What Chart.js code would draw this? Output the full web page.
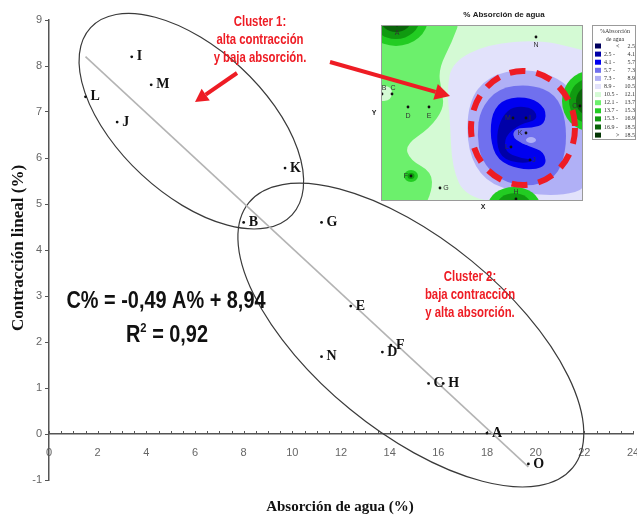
<!DOCTYPE html>
<html>
<head>
<meta charset="utf-8">
<script src="https://cdn.jsdelivr.net/npm/chart.js@4.4.0/dist/chart.umd.min.js"></script>
<style>
  html, body { margin: 0; padding: 0; background: #fff; }
  canvas { display: block; }
</style>
</head>
<body>
<canvas id="scatterChart" width="637" height="516"></canvas>
<script>
// Muestras (etiqueta, absorcion de agua %, contraccion lineal %)
const sampleNames = ['A', 'B', 'C', 'D', 'E', 'F', 'G', 'H', 'I', 'J', 'K', 'L', 'M', 'N', 'O'];
const absorption = [18.0, 8.0, 15.6, 13.7, 12.4, 14.05, 11.2, 16.2, 3.4, 2.8, 9.7, 1.5, 4.2, 11.2, 19.7];
const contraction = [0.02, 4.6, 1.1, 1.78, 2.78, 1.93, 4.6, 1.1, 8.2, 6.78, 5.78, 7.33, 7.59, 1.68, -0.65];

// Recta de ajuste C% = -0,49 A% + 8,94
const fitSlope = -0.49;
const fitIntercept = 8.94;
const fitRange = [1.5, 19.7];

// Ticks
const xTickLabels = [0, 2, 4, 6, 8, 10, 12, 14, 16, 18, 20, 22, 24];
const yTickLabels = [-1, 0, 1, 2, 3, 4, 5, 6, 7, 8, 9];

// Leyenda del mapa de contorno (inset)
const insetRanges = ['< 2.5', '2.5 - 4.1', '4.1 - 5.7', '5.7 - 7.3', '7.3 - 8.9', '8.9 - 10.5',
  '10.5 - 12.1', '12.1 - 13.7', '13.7 - 15.3', '15.3 - 16.9', '16.9 - 18.5', '> 18.5'];
const insetColors = ['#00005e', '#0000a8', '#0000f0', '#7070ee', '#b0b0f6', '#e2e2fb',
  '#d4fad4', '#6cf06c', '#22cc22', '#109a10', '#0a640a', '#033503'];

// Elipses de los clusters (centro en unidades de datos, semiejes en unidades de x)
const clusterEllipses = [
  { cx: 5.85, cy: 6.8, a: 5.65, b: 3.0, angle: 42.9 },
  { cx: 14.87, cy: 2.15, a: 8.6, b: 3.94, angle: 39.3 }
];

const RED = '#ee1c24';

function fitText(ctx, text, cx, cy, width, font, color) {
  ctx.save();
  ctx.font = font;
  const w = ctx.measureText(text).width;
  ctx.translate(cx, cy);
  ctx.scale(width / w, 1);
  ctx.textAlign = 'center';
  ctx.textBaseline = 'middle';
  ctx.fillStyle = color;
  ctx.fillText(text, 0, 0);
  ctx.restore();
  return width / w;
}

function blob(ctx, pts, color) {
  const n = pts.length;
  const mid = (p, q) => [(p[0] + q[0]) / 2, (p[1] + q[1]) / 2];
  ctx.beginPath();
  const m0 = mid(pts[n - 1], pts[0]);
  ctx.moveTo(m0[0], m0[1]);
  for (let i = 0; i < n; i++) {
    const m = mid(pts[i], pts[(i + 1) % n]);
    ctx.quadraticCurveTo(pts[i][0], pts[i][1], m[0], m[1]);
  }
  ctx.closePath();
  ctx.fillStyle = color;
  ctx.fill();
}

function rings(ctx, cx, cy, rx, ry, colors) {
  colors.forEach((c, i) => {
    const k = 1 - i / colors.length;
    ctx.beginPath();
    ctx.ellipse(cx, cy, rx * k, ry * k, 0, 0, Math.PI * 2);
    ctx.fillStyle = c;
    ctx.fill();
  });
}

function arrow(ctx, x1, y1, x2, y2, width, head) {
  const ang = Math.atan2(y2 - y1, x2 - x1);
  const bx = x2 - head * Math.cos(ang), by = y2 - head * Math.sin(ang);
  ctx.save();
  ctx.strokeStyle = RED;
  ctx.fillStyle = RED;
  ctx.lineWidth = width;
  ctx.beginPath();
  ctx.moveTo(x1, y1);
  ctx.lineTo(bx, by);
  ctx.stroke();
  ctx.beginPath();
  ctx.moveTo(x2, y2);
  ctx.lineTo(bx + head * 0.55 * Math.sin(ang), by - head * 0.55 * Math.cos(ang));
  ctx.lineTo(bx - head * 0.55 * Math.sin(ang), by + head * 0.55 * Math.cos(ang));
  ctx.closePath();
  ctx.fill();
  ctx.restore();
}

function drawInset(ctx) {
  const L = 381, T = 25, R = 583, B = 201;
  ctx.save();
  ctx.font = 'bold 8px "Liberation Sans", Arial, sans-serif';
  ctx.fillStyle = '#222';
  ctx.textAlign = 'center';
  ctx.textBaseline = 'middle';
  ctx.fillText('% Absorción de agua', 504, 15);

  ctx.save();
  ctx.beginPath();
  ctx.rect(L, T, R - L, B - T);
  ctx.clip();
  ctx.fillStyle = insetColors[6];
  ctx.fillRect(L, T, R - L, B - T);

  // zonas verdes (alta absorcion)
  blob(ctx, [[370, 10], [462, 15], [452, 42], [438, 70], [442, 92], [444, 108], [430, 128], [405, 145],
    [410, 160], [432, 172], [432, 192], [420, 215], [370, 215]], insetColors[7]);
  blob(ctx, [[376, 86], [392, 86], [392, 100], [376, 102]], insetColors[6]);
  rings(ctx, 396, 18, 32, 28, [insetColors[8], insetColors[9], insetColors[10], insetColors[11]]);
  rings(ctx, 411, 176, 7, 6, [insetColors[8], insetColors[9]]);

  // zonas azules (baja absorcion)
  blob(ctx, [[452, 62], [488, 44], [540, 40], [575, 48], [600, 55], [600, 215], [520, 205], [466, 198],
    [452, 168], [450, 120], [447, 90]], insetColors[5]);
  blob(ctx, [[468, 102], [488, 76], [525, 68], [560, 78], [578, 98], [590, 140], [590, 188], [560, 196],
    [520, 193], [485, 182], [467, 150]], insetColors[4]);
  rings(ctx, 590, 101, 28, 30, [insetColors[8], insetColors[9], insetColors[10], insetColors[11]]);
  rings(ctx, 514, 206, 26, 19, [insetColors[8], insetColors[9], insetColors[10]]);
  blob(ctx, [[480, 110], [498, 88], [530, 84], [556, 94], [566, 120], [566, 152], [556, 178], [530, 187],
    [500, 181], [481, 160], [477, 135]], insetColors[3]);
  blob(ctx, [[492, 112], [505, 98], [530, 97], [546, 108], [545, 124], [532, 128], [515, 128], [512, 138],
    [528, 146], [545, 152], [546, 168], [520, 170], [497, 160], [490, 138]], insetColors[2]);
  blob(ctx, [[502, 116], [514, 106], [534, 108], [538, 120], [520, 124], [505, 136], [505, 152], [520, 158],
    [536, 160], [522, 164], [500, 158], [496, 136]], insetColors[1]);
  ctx.beginPath();
  ctx.ellipse(529, 139, 10, 6, 0, 0, Math.PI * 2);
  ctx.fillStyle = insetColors[3];
  ctx.fill();
  ctx.beginPath();
  ctx.ellipse(531, 140, 5, 3, 0, 0, Math.PI * 2);
  ctx.fillStyle = insetColors[4];
  ctx.fill();

  // puntos de muestreo
  const insetPts = [[397, 25, 'A', 0, 8], [536, 37, 'N', 0, 8], [382, 94, 'B', 2, -6], [392, 94, 'C', 1, -6],
    [408, 107, 'D', 0, 9], [429, 107, 'E', 0, 9], [526, 133, 'K', -6, 0], [411, 176, 'F', -5, 0],
    [440, 188, 'G', 6, 0], [516, 199, 'H', 0, -7], [580, 106, 'O', -5, 0], [511, 147, 'L', -4, 0],
    [530, 160, 'J', 4, 0], [513, 118, 'M', -5, 0], [526, 118, 'I', 4, 0]];
  ctx.font = '7px "Liberation Sans", Arial, sans-serif';
  insetPts.forEach(p => {
    ctx.fillStyle = '#111';
    ctx.beginPath();
    ctx.arc(p[0], p[1], 1.4, 0, Math.PI * 2);
    ctx.fill();
    ctx.fillStyle = '#333';
    ctx.fillText(p[2], p[0] + p[3], p[1] + p[4]);
  });
  ctx.restore();

  ctx.strokeStyle = '#9a9a9a';
  ctx.lineWidth = 1;
  ctx.strokeRect(L + 0.5, T + 0.5, R - L - 1, B - T - 1);
  ctx.fillStyle = '#222';
  ctx.font = 'bold 7px "Liberation Sans", Arial, sans-serif';
  ctx.fillText('Y', 374, 113);
  ctx.fillText('X', 483, 207);

  // circulo rojo discontinuo
  ctx.save();
  ctx.strokeStyle = RED;
  ctx.lineWidth = 6;
  ctx.setLineDash([16, 11]);
  ctx.beginPath();
  ctx.ellipse(523, 128, 52, 57, 0, 0, Math.PI * 2);
  ctx.stroke();
  ctx.restore();

  // leyenda
  ctx.fillStyle = '#fff';
  ctx.fillRect(592, 25, 44, 115);
  ctx.strokeStyle = '#9a9a9a';
  ctx.strokeRect(592.5, 25.5, 43, 114);
  ctx.font = '6px "Liberation Serif", serif';
  ctx.fillStyle = '#333';
  ctx.fillText('%Absorción', 615, 31);
  ctx.fillText('de agua', 615, 39);
  insetRanges.forEach((txt, i) => {
    const y = 46 + i * 8.1;
    ctx.fillStyle = insetColors[i];
    ctx.fillRect(595, y - 2.5, 6, 5);
    ctx.fillStyle = '#333';
    const parts = txt.split(' ');
    ctx.textAlign = 'left';
    if (parts.length === 3) ctx.fillText(parts[0] + ' -', 604, y);
    else ctx.fillText(parts[0], 616, y);
    ctx.textAlign = 'right';
    ctx.fillText(parts[parts.length - 1], 635, y);
  });
  ctx.restore();
}

const decorPlugin = {
  id: 'decor',
  beforeDatasetsDraw(chart) {
    const { ctx, scales: { x, y } } = chart;
    const unit = x.getPixelForValue(1) - x.getPixelForValue(0);
    ctx.save();
    // marcas del eje x hacia arriba
    ctx.strokeStyle = '#555';
    ctx.lineWidth = 1;
    const y0 = y.getPixelForValue(0);
    x.ticks.forEach(t => {
      const px = Math.round(x.getPixelForValue(t.value)) + 0.5;
      ctx.beginPath();
      ctx.moveTo(px, y0);
      ctx.lineTo(px, y0 - 3);
      ctx.stroke();
    });
    ctx.strokeStyle = '#3a3a3a';
    ctx.lineWidth = 1.2;
    clusterEllipses.forEach(e => {
      ctx.beginPath();
      ctx.ellipse(x.getPixelForValue(e.cx), y.getPixelForValue(e.cy), e.a * unit, e.b * unit,
        e.angle * Math.PI / 180, 0, Math.PI * 2);
      ctx.stroke();
    });
    ctx.restore();
  },
  afterDraw(chart) {
    const ctx = chart.ctx;
    // etiquetas de los puntos
    const meta = chart.getDatasetMeta(0);
    ctx.save();
    ctx.font = 'bold 14px "Liberation Serif", "Times New Roman", serif';
    ctx.fillStyle = '#111';
    ctx.textAlign = 'left';
    ctx.textBaseline = 'middle';
    meta.data.forEach((pt, i) => {
      ctx.fillText(sampleNames[i], pt.x + 5, pt.y);
    });
    ctx.restore();

    // titulos de ejes
    ctx.save();
    ctx.fillStyle = '#111';
    ctx.textAlign = 'center';
    ctx.textBaseline = 'middle';
    ctx.font = 'bold 15px "Liberation Serif", "Times New Roman", serif';
    ctx.fillText('Absorción de agua (%)', 340, 507);
    ctx.translate(19, 248);
    ctx.rotate(-Math.PI / 2);
    ctx.font = 'bold 17px "Liberation Serif", "Times New Roman", serif';
    ctx.fillText('Contracción lineal (%)', 0, 0);
    ctx.restore();

    // ecuacion
    const eqFont = 'bold 23px "Liberation Sans", Arial, sans-serif';
    const k = fitText(ctx, 'C% = -0,49 A% + 8,94', 166, 302, 199, eqFont, '#111');
    ctx.save();
    ctx.font = eqFont;
    const wR = ctx.measureText('R').width * k;
    const wRest = ctx.measureText(' = 0,92').width * k;
    ctx.font = 'bold 13px "Liberation Sans", Arial, sans-serif';
    const w2 = ctx.measureText('2').width * k;
    const total = wR + w2 + wRest;
    const sx = 167 - total / 2;
    ctx.fillStyle = '#111';
    ctx.textBaseline = 'middle';
    ctx.textAlign = 'left';
    ctx.translate(sx, 336);
    ctx.scale(k, 1);
    ctx.font = eqFont;
    ctx.fillText('R', 0, 0);
    ctx.font = 'bold 13px "Liberation Sans", Arial, sans-serif';
    ctx.fillText('2', wR / k, -8);
    ctx.font = eqFont;
    ctx.fillText(' = 0,92', (wR + w2) / k, 0);
    ctx.restore();

    // inset con el mapa de contorno
    drawInset(ctx);

    // textos y flechas de clusters
    const cf = 'bold 14px "Liberation Sans", Arial, sans-serif';
    ctx.font = cf;
    const kc = 87 / ctx.measureText('alta contracción').width;
    const c1 = ['Cluster 1:', 'alta contracción', 'y baja absorción.'];
    const c2 = ['Cluster 2:', 'baja contracción', 'y alta absorción.'];
    c1.forEach((t, i) => {
      ctx.font = cf;
      fitText(ctx, t, 260, 22 + i * 18, ctx.measureText(t).width * kc, cf, RED);
    });
    c2.forEach((t, i) => {
      ctx.font = cf;
      fitText(ctx, t, 470, 277 + i * 18, ctx.measureText(t).width * kc, cf, RED);
    });
    arrow(ctx, 237, 73, 195, 102, 4, 13);
    arrow(ctx, 330, 62, 450, 96, 4, 15);
  }
};

const ctx = document.getElementById('scatterChart');

new Chart(ctx, {
  type: 'scatter',
  data: {
    datasets: [
      {
        label: 'Muestras',
        data: absorption.map((a, i) => ({ x: a, y: contraction[i] })),
        pointRadius: 1.4,
        pointBackgroundColor: '#111',
        pointBorderWidth: 0
      },
      {
        label: 'Ajuste',
        type: 'line',
        data: fitRange.map(a => ({ x: a, y: fitSlope * a + fitIntercept })),
        borderColor: '#b4b4b4',
        borderWidth: 1.6,
        pointRadius: 0,
        fill: false
      }
    ]
  },
  options: {
    responsive: false,
    animation: false,
    events: [],
    layout: { padding: { left: 27, right: 4, top: 20, bottom: 36 } },
    plugins: {
      legend: { display: false },
      tooltip: { enabled: false }
    },
    scales: {
      x: {
        type: 'linear',
        min: xTickLabels[0],
        max: xTickLabels[xTickLabels.length - 1],
        position: { y: 0 },
        border: { display: true, color: '#555', width: 1.5 },
        grid: { display: false },
        afterFit: s => { s.paddingLeft = 0; s.paddingRight = 0; },
        ticks: {
          stepSize: 0.5,
          autoSkip: false,
          maxRotation: 0,
          padding: 4,
          color: '#666',
          font: { family: '"Liberation Sans", Arial, sans-serif', size: 11 },
          callback: v => (xTickLabels.includes(v) ? String(v) : '')
        }
      },
      y: {
        type: 'linear',
        min: yTickLabels[0],
        max: yTickLabels[yTickLabels.length - 1],
        position: 'left',
        afterFit: s => { s.width = 22; },
        border: { color: '#555', width: 1.5 },
        grid: { drawOnChartArea: false, tickLength: 4, color: '#555' },
        ticks: {
          stepSize: 1,
          padding: 3,
          color: '#666',
          font: { family: '"Liberation Sans", Arial, sans-serif', size: 11 },
          callback: v => (yTickLabels.includes(v) ? String(v) : '')
        }
      }
    }
  },
  plugins: [decorPlugin]
});
</script>
</body>
</html>
